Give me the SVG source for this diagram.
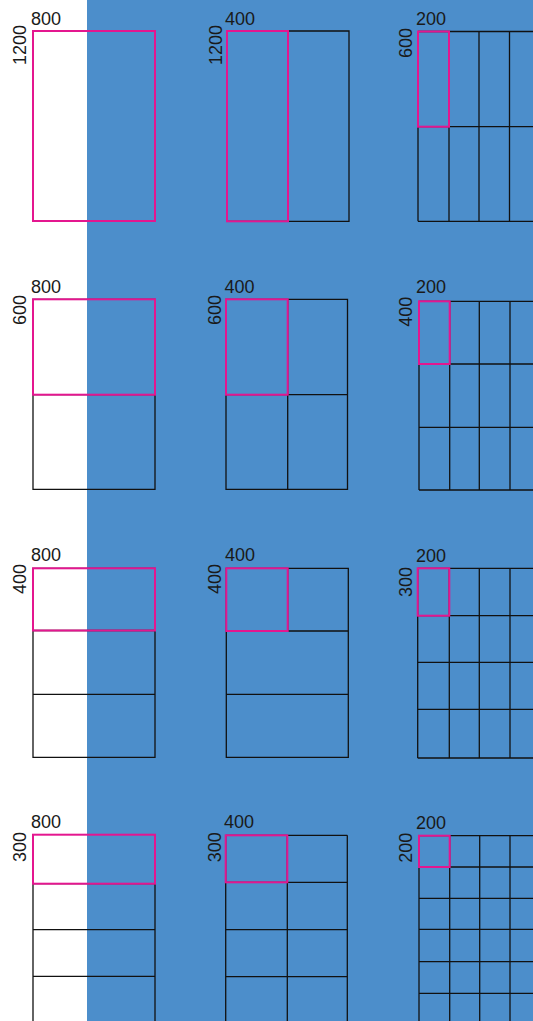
<svg xmlns="http://www.w3.org/2000/svg" width="533" height="1021" viewBox="0 0 533 1021">
<style>
.g{fill:none;stroke:#111;stroke-width:1.3}
.p{fill:none;stroke:#e4168f;stroke-width:2}
text{font-family:"Liberation Sans",Arial,sans-serif;font-size:18px;fill:#1a1a1a}
.r{text-anchor:end}
</style>
<rect x="0" y="0" width="533" height="1021" fill="#ffffff"/>
<rect x="87" y="0" width="446" height="1021" fill="#4c8ecb"/>

<!-- Row 1 -->
<g id="r1c1">
<rect class="p" x="33" y="31" width="122" height="190"/>
<text x="31" y="25">800</text>
<text class="r" transform="translate(26,25) rotate(-90)">1200</text>
</g>
<g id="r1c2">
<path class="g" d="M227,31H349V221.3H227ZM288,31V221.3"/>
<rect class="p" x="227" y="31" width="61" height="190.3"/>
<text x="225" y="25">400</text>
<text class="r" transform="translate(221.5,25) rotate(-90)">1200</text>
</g>
<g id="r1c3">
<path class="g" d="M418,31.5H533M418,126.7H533M418,221.3H533M418,31.5V221.3M449,31.5V221.3M479,31.5V221.3M509.5,31.5V221.3"/>
<rect class="p" x="418" y="31.5" width="31" height="95.2"/>
<text x="416" y="25">200</text>
<text class="r" transform="translate(412,28) rotate(-90)">600</text>
</g>

<!-- Row 2 -->
<g id="r2c1">
<path class="g" d="M33,299.3H155V489.3H33ZM33,394.7H155"/>
<rect class="p" x="33" y="299.3" width="122" height="95.4"/>
<text x="31" y="292.7">800</text>
<text class="r" transform="translate(26,295) rotate(-90)">600</text>
</g>
<g id="r2c2">
<path class="g" d="M226,299.3H347.5V489.3H226ZM287.7,299.3V489.3M226,394.7H347.5"/>
<rect class="p" x="226" y="299.3" width="61.7" height="95.4"/>
<text x="224.5" y="292.7">400</text>
<text class="r" transform="translate(220.7,295) rotate(-90)">600</text>
</g>
<g id="r2c3">
<path class="g" d="M419,301.3H533M419,364H533M419,427.3H533M419,490H533M419,301.3V490M449.7,301.3V490M479.3,301.3V490M510,301.3V490"/>
<rect class="p" x="419" y="301.3" width="30.7" height="62.7"/>
<text x="416" y="292.7">200</text>
<text class="r" transform="translate(412,296.7) rotate(-90)">400</text>
</g>

<!-- Row 3 -->
<g id="r3c1">
<path class="g" d="M33,568.3H155V757.3H33ZM33,630.5H155M33,694.3H155"/>
<rect class="p" x="33" y="568.3" width="122" height="62.2"/>
<text x="31" y="561">800</text>
<text class="r" transform="translate(26,564) rotate(-90)">400</text>
</g>
<g id="r3c2">
<path class="g" d="M226.3,568.3H348.3V757.3H226.3ZM226.3,631H348.3M226.3,694.3H348.3M287.7,568.3V631"/>
<rect class="p" x="226.3" y="568.3" width="61.4" height="62.7"/>
<text x="225" y="561">400</text>
<text class="r" transform="translate(221,564) rotate(-90)">400</text>
</g>
<g id="r3c3">
<path class="g" d="M417.7,568.3H533M417.7,615.7H533M417.7,662.3H533M417.7,709.3H533M417.7,758H533M417.7,568.3V758M449.3,568.3V758M479.3,568.3V758M510,568.3V758"/>
<rect class="p" x="417.7" y="568.3" width="31.6" height="47.4"/>
<text x="416" y="561.7">200</text>
<text class="r" transform="translate(412,567) rotate(-90)">300</text>
</g>

<!-- Row 4 -->
<g id="r4c1">
<path class="g" d="M33,834.7V1021M155,834.7V1021M33,883.7H155M33,929.7H155M33,976.3H155"/>
<rect class="p" x="33" y="834.7" width="122" height="49"/>
<text x="31" y="828.3">800</text>
<text class="r" transform="translate(26,832) rotate(-90)">300</text>
</g>
<g id="r4c2">
<path class="g" d="M225.7,835.3V1021M287.3,835.3V1021M347.3,835.3V1021M225.7,835.3H347.3M225.7,882.3H347.3M225.7,929.7H347.3M225.7,976.7H347.3"/>
<rect class="p" x="225.7" y="835.3" width="61.6" height="47"/>
<text x="224" y="828.3">400</text>
<text class="r" transform="translate(220.7,832.3) rotate(-90)">300</text>
</g>
<g id="r4c3">
<path class="g" d="M419,835.7H533M419,867H533M419,898.3H533M419,929.3H533M419,961.7H533M419,993.3H533M419,835.7V1021M449.7,835.7V1021M479.7,835.7V1021M510,835.7V1021"/>
<rect class="p" x="419" y="835.7" width="30.7" height="31.3"/>
<text x="416" y="829">200</text>
<text class="r" transform="translate(412,832.7) rotate(-90)">200</text>
</g>
<g id="connectors"/>
</svg>
